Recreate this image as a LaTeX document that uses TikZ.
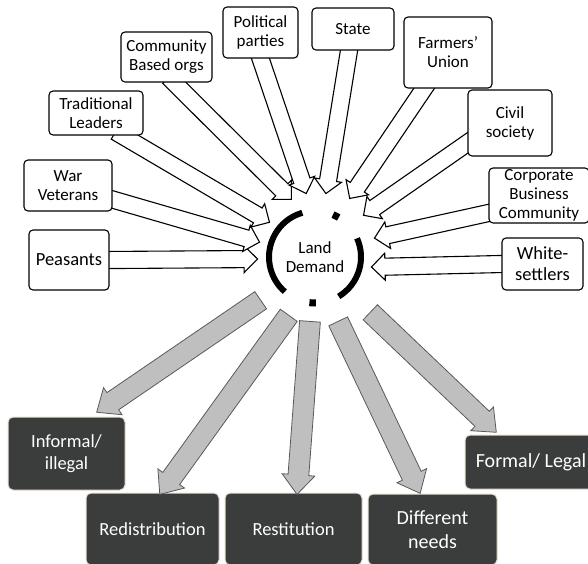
\documentclass[tikz,border=0pt]{standalone}
\usepackage{fontspec}
\setmainfont{Carlito}
\usetikzlibrary{shapes.arrows,calc,backgrounds}
\definecolor{boxdark}{HTML}{3B3C3C}
\definecolor{boxedge}{HTML}{E6DFD0}
\definecolor{arrowgray}{HTML}{BFBFBF}
\definecolor{arrowedge}{HTML}{595959}

% block arrow from a tail point to a tip point
\newcommand\blockarrow[3][]{%
  \path let \p1=($(#3)-(#2)$), \n1={veclen(\x1,\y1)}, \n2={atan2(\y1,\x1)} in
    node[#1, minimum height=\n1, rotate=\n2, anchor=tail] at (#2) {};
}

\tikzset{
  actor/.style={draw, line width=1.1pt, fill=white, rounded corners=4pt, align=center,
    font=\fontsize{17}{19}\selectfont, inner sep=1pt},
  outcome/.style={draw=boxedge, line width=1pt, fill=boxdark, text=white, rounded corners=5pt,
    align=center, font=\fontsize{18.5}{22}\selectfont, inner sep=1pt},
  inarrow/.style={single arrow, draw, line width=1.1pt, fill=white, inner sep=8pt,
    single arrow head extend=5pt, single arrow tip angle=90},
  outarrow/.style={single arrow, draw=arrowedge, line width=0.8pt, fill=arrowgray, inner sep=10pt,
    single arrow head extend=6pt, single arrow tip angle=80},
}

\begin{document}
\begin{tikzpicture}[x=1pt,y=-1pt]
  \useasboundingbox (0,0) rectangle (588,563);

  % the demand in the middle
  \node[font=\fontsize{17}{19}\selectfont, align=center] (demand) at (315,257) {Land\\Demand};
  \begin{scope}[line width=6pt]
    \draw (demand.center) ++(-106:46) arc[start angle=-106, end angle=-229, radius=46];
    \draw (demand.center) ++(59:46) arc[start angle=59, end angle=-24, radius=46];
    \draw[line width=7pt] (demand.center) ++(-59:46) arc[start angle=-59, end angle=-67, radius=46];
    \draw[line width=7pt] (demand.center) ++(-263:46) arc[start angle=-263, end angle=-271, radius=46];
  \end{scope}

  % actors
  \node[actor, minimum width=80, minimum height=60, font=\fontsize{18.5}{21}\selectfont] (peas) at (69,260) {Peasants};
  \node[actor, minimum width=88, minimum height=51] (war) at (68,185.5) {War\\Veterans};
  \node[actor, minimum width=94, minimum height=44] (trad) at (96,113) {Traditional\\Leaders};
  \node[actor, minimum width=91, minimum height=50] (cbo) at (166.5,57) {Community\\Based orgs};
  \node[actor, minimum width=75, minimum height=51] (pol) at (260.5,32.5) {Political\\parties};
  \node[actor, minimum width=82, minimum height=42] (state) at (353,29) {State};
  \node[actor, minimum width=88, minimum height=71] (farm) at (448,52.5) {Farmers’\\Union};
  \node[actor, minimum width=84, minimum height=66] (civil) at (510,123) {Civil\\society};
  \node[actor, minimum width=100, minimum height=55] (corp) at (539,195.5) {Corporate\\Business\\Community};
  \node[actor, minimum width=81, minimum height=52, font=\fontsize{18.5}{21}\selectfont] (white) at (542.5,264) {White-\\settlers};

  % outcomes
  \node[outcome, minimum width=117, minimum height=73] (inf) at (66.5,453.5) {Informal/\\illegal};
  \node[outcome, minimum width=133, minimum height=72] (redis) at (152.5,529) {Redistribution};
  \node[outcome, minimum width=137, minimum height=72] (resti) at (293.5,529) {Restitution};
  \node[outcome, minimum width=129, minimum height=71, font=\fontsize{20}{24}\selectfont] (diff) at (432.5,529.5) {Different\\needs};
  \node[outcome, minimum width=132, minimum height=54, font=\fontsize{20}{24}\selectfont] (formal) at (531,462) {Formal/ Legal};

  % arrow ends
  \coordinate (peas-t) at (peas.east);          \coordinate (peas-h) at (257,259);
  \coordinate (war-t) at ($(war.east)+(0,14)$);  \coordinate (war-h) at (259,242);
  \coordinate (trad-t) at ($(trad.south)+(26,0)$); \coordinate (trad-h) at (269,222);
  \coordinate (cbo-t) at ($(cbo.south)+(7.5,0)$); \coordinate (cbo-h) at (291,199);
  \coordinate (pol-t) at (pol.south);           \coordinate (pol-h) at (306,193);
  \coordinate (state-t) at ($(state.south)+(-4,0)$); \coordinate (state-h) at (326,193);
  \coordinate (farm-t) at ($(farm.south)+(-24,0)$); \coordinate (farm-h) at (350,198);
  \coordinate (civil-t) at ($(civil.west)+(0,20)$); \coordinate (civil-h) at (364,215);
  \coordinate (corp-t) at ($(corp.west)+(0,17.5)$); \coordinate (corp-h) at (375,238);
  \coordinate (white-t) at (white.west);        \coordinate (white-h) at (372,267);

  \coordinate (inf-t) at (261,300);   \coordinate (inf-h) at (97,412);
  \coordinate (redis-t) at (289,315); \coordinate (redis-h) at (160,494);
  \coordinate (resti-t) at (310,321); \coordinate (resti-h) at (297,494);
  \coordinate (diff-t) at (338,321);  \coordinate (diff-h) at (420,493);
  \coordinate (formal-t) at (370,312); \coordinate (formal-h) at (496,432);

  \begin{scope}[on background layer]
    \foreach \who in {peas,war,trad,cbo,pol,state,farm,civil,corp,white}{
      \coordinate (\who-b) at ($(\who-t)!-8pt!(\who-h)$);
      \blockarrow[inarrow]{\who-b}{\who-h}
    }
  \end{scope}
  \foreach \who in {inf,redis,resti,diff,formal}{
    \blockarrow[outarrow]{\who-t}{\who-h}
  }
\end{tikzpicture}
\end{document}
